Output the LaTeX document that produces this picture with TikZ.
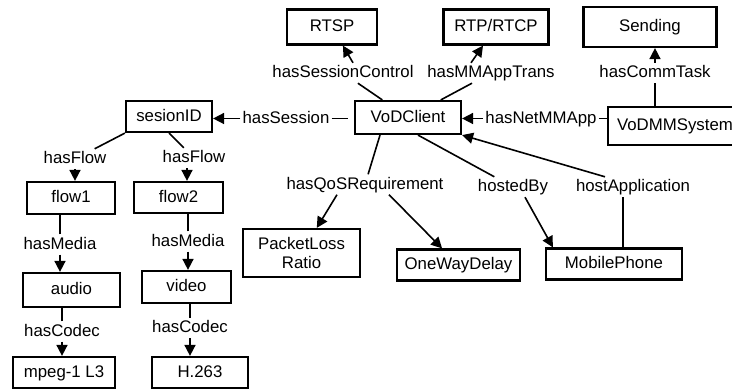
\documentclass[tikz,border=0pt]{standalone}
\usepackage{fontspec}
\setmainfont{Liberation Sans}
\usetikzlibrary{arrows.meta}
\newcommand{\lbl}{\fontsize{16.8}{19}\selectfont}
\tikzset{
  ent/.style={draw=black,line width=2.2pt,fill=white,inner sep=2pt,font=\lbl,
    text height=12.6pt,text depth=3.4pt,minimum height=32pt,align=center},
  prop/.style={inner sep=2pt,font=\lbl,text height=12.6pt,text depth=3.4pt},
  lnk/.style={line width=1.6pt},
  arr/.style={-{Triangle[length=11pt,width=11pt]},line width=1.6pt},
}

\begin{document}
\begin{tikzpicture}[x=1pt,y=-1pt]
  \useasboundingbox (0,0) rectangle (732,390);
  % classes
  \node[ent,minimum width=90pt,minimum height=35pt] (rtsp) at (332,27) {RTSP};
  \node[ent,minimum width=105pt,minimum height=35pt] (rtp) at (496,27) {RTP/RTCP};
  \node[ent,minimum width=133pt,minimum height=40pt] (send) at (650,27) {Sending};
  \node[ent,minimum width=106pt,minimum height=33pt] (vod) at (408,117.5) {VoDClient};
  \node[ent,minimum width=134pt,minimum height=38pt] (vmm) at (675,126) {VoDMMSystem};
  \node[ent,minimum width=86pt,minimum height=31pt] (sid) at (169,116.5) {sesionID};
  \node[ent,minimum width=88pt] (flow1) at (71,198) {flow1};
  \node[ent,minimum width=89pt,minimum height=31pt] (flow2) at (178.5,197.5) {flow2};
  \node[ent,minimum width=97pt,minimum height=34pt] (audio) at (71.5,290) {audio};
  \node[ent,minimum width=89pt] (video) at (186.5,287) {video};
  \node[ent,minimum width=102pt,minimum height=31pt] (mpeg) at (64,372.5) {mpeg-1 L3};
  \node[ent,minimum width=96pt,minimum height=31pt] (h263) at (200,372.5) {H.263};
  \node[ent,minimum width=117pt,minimum height=48pt,text height=,text depth=] (plr) at (301.5,253) {PacketLoss\\Ratio};
  \node[ent,minimum width=123pt,minimum height=31pt] (owd) at (458.5,265) {OneWayDelay};
  \node[ent,minimum width=136pt,minimum height=31pt] (mob) at (614,264) {MobilePhone};
  % properties
  \node[prop] (lSC) at (343,73) {hasSessionControl};
  \node[prop] (lMT) at (491,73) {hasMMAppTrans};
  \node[prop] (lCT) at (655,73) {hasCommTask};
  \node[prop] (lNA) at (541,118.5) {hasNetMMApp};
  \node[prop] (lSe) at (286,118.5) {hasSession};
  \node[prop] (lFa) at (75,159) {hasFlow};
  \node[prop] (lFb) at (194,158) {hasFlow};
  \node[prop] (lMa) at (60,244.5) {hasMedia};
  \node[prop] (lMb) at (188,241.5) {hasMedia};
  \node[prop] (lCa) at (62,331.5) {hasCodec};
  \node[prop] (lCb) at (190,328) {hasCodec};
  \node[prop] (lQoS) at (365,184.5) {hasQoSRequirement};
  \node[prop] (lHB) at (513,187) {hostedBy};
  \node[prop] (lHA) at (633,187) {hostApplication};
  % connectors
  \draw[lnk] (vod) -- (lSC);
  \draw[arr] ([xshift=10pt]lSC.north) -- (rtsp);
  \draw[lnk] (vod) -- (lMT);
  \draw[arr] ([xshift=-20pt]lMT.north) -- (rtp);
  \draw[lnk] (lCT) -- (lCT |- vmm.north);
  \draw[arr] (lCT) -- (lCT |- send.south);
  \draw[lnk] (lNA) -- (lNA -| vmm.west);
  \draw[arr] (lNA) -- (lNA -| vod.east);
  \draw[lnk,shorten >=6pt] (lSe) -- (lSe -| vod.west);
  \draw[arr] (lSe) -- (lSe -| sid.east);
  \draw[lnk] (sid.south west) -- (lFa);
  \draw[arr] (lFa) -- (lFa |- flow1.north);
  \draw[lnk] (sid.south) -- (lFb);
  \draw[arr] ([xshift=-7pt]lFb.south) -- ([xshift=-7pt]lFb.south |- flow2.north);
  \draw[lnk] (lMa) -- (lMa |- flow1.south);
  \draw[arr] (lMa) -- (lMa |- audio.north);
  \draw[lnk] (lCa) -- (lCa |- audio.south);
  \draw[arr] (lCa) -- (lCa |- mpeg.north);
  \draw[lnk] (lMb) -- (lMb |- flow2.south);
  \draw[arr] (lMb) -- (lMb |- video.north);
  \draw[lnk] (lCb) -- (lCb |- video.south);
  \draw[arr] (lCb) -- (lCb |- h263.north);
  \draw[lnk] ([xshift=-28pt]vod.south) -- (lQoS);
  \draw[arr] ([xshift=-28pt]lQoS.south) -- (plr);
  \draw[arr] ([xshift=24pt]lQoS.south) -- (owd);
  \draw[lnk] ([xshift=10pt]vod.south) -- (lHB);
  \draw[arr] ([xshift=12pt]lHB.south) -- ([xshift=8pt]mob.north west);
  \draw[lnk] ([xshift=-10pt]lHA.south) -- ([xshift=-10pt]lHA.south |- mob.north);
  \draw[arr] ([xshift=-28pt]lHA.north) -- (vod.south east);
\end{tikzpicture}
\end{document}
